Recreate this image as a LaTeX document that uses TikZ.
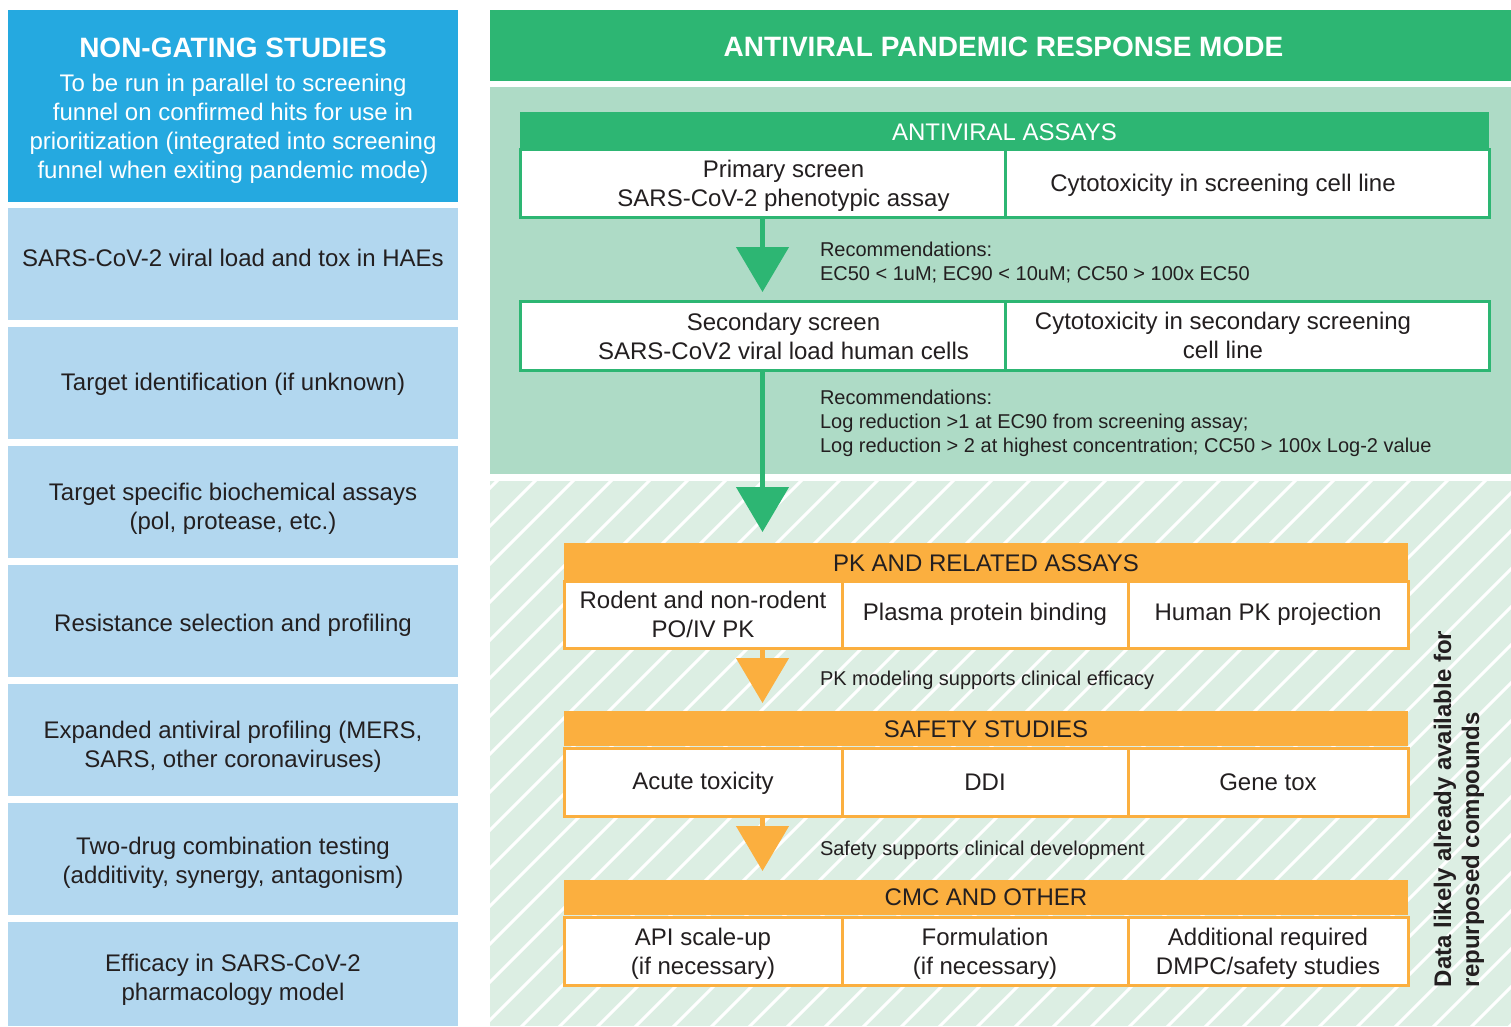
\documentclass[tikz,border=0pt]{standalone}
\usepackage{fontspec}
\setmainfont{Liberation Sans}
\usetikzlibrary{arrows.meta,calc}
\definecolor{blueH}{HTML}{25A9E0}
\definecolor{blueL}{HTML}{B2D7EF}
\definecolor{greenH}{HTML}{2DB673}
\definecolor{greenL}{HTML}{AEDBC6}
\definecolor{hatchbg}{HTML}{DCEEE3}
\definecolor{orangeH}{HTML}{FBAF3F}
\definecolor{txt}{HTML}{231F20}
\tikzset{
  base/.style={inner sep=0pt, outer sep=0pt, align=center, text=txt,
    font=\fontsize{24bp}{29bp}\selectfont},
  leftbox/.style={base, fill=blueL, minimum width=450bp},
  gcell/.style={base, fill=white, draw=greenH, line width=3bp, minimum height=68bp},
  ocell/.style={base, fill=white, draw=orangeH, line width=3bp, minimum height=68bp},
  ghead/.style={base, fill=greenH, text=white, minimum height=36bp},
  ohead/.style={base, fill=orangeH, minimum height=36bp},
  note/.style={inner sep=0pt, outer sep=0pt, align=left, text=txt, anchor=west,
    font=\fontsize{20bp}{24bp}\selectfont},
  garrow/.style={draw=greenH, line width=4.5bp, -{Triangle[width=52bp,length=45bp]}},
  oarrow/.style={draw=orangeH, line width=4.5bp, -{Triangle[width=52bp,length=45bp]}},
}
\begin{document}
\begin{tikzpicture}[x=1bp,y=-1bp]
\useasboundingbox (0,0) rectangle (1511,1026);
% ---------- left column ----------
\node[base, fill=blueH, minimum width=450bp, minimum height=192bp,
  label={[base, text=white, yshift=-4.5bp]center:{\fontsize{28bp}{34bp}\selectfont\bfseries NON-GATING STUDIES}\\[5bp]
   To be run in parallel to screening\\
   funnel on confirmed hits for use in\\
   prioritization (integrated into screening\\
   funnel when exiting pandemic mode)}] (ng) at (233,106) {};
\node[leftbox, minimum height=112bp, label={[base, yshift=6bp]center:SARS-CoV-2 viral load and tox in HAEs}] (l1) at (233,264) {};
\node[leftbox, minimum height=112bp, label={[base, yshift=-1bp]center:Target identification (if unknown)}] (l2) at (233,383) {};
\node[leftbox, minimum height=112bp, label={[base, yshift=-7bp]center:Target specific biochemical assays\\(pol, protease, etc.)}] (l3) at (233,502) {};
\node[leftbox, minimum height=112bp, label={[base, yshift=-4bp]center:Resistance selection and profiling}] (l4) at (233,621) {};
\node[leftbox, minimum height=112bp, label={[base, yshift=-7bp]center:Expanded antiviral profiling (MERS,\\SARS, other coronaviruses)}] (l5) at (233,740) {};
\node[leftbox, minimum height=112bp, label={[base, yshift=-4bp]center:Two-drug combination testing\\(additivity, synergy, antagonism)}] (l6) at (233,859) {};
\node[leftbox, minimum height=104bp, label={[base, yshift=-6bp]center:Efficacy in SARS-CoV-2\\pharmacology model}] (l7) at (233,974) {};
% ---------- right column backgrounds ----------
\node[base, fill=greenH, minimum width=1021bp, minimum height=71bp,
  label={[base, text=white, xshift=3bp, yshift=-1.5bp, font=\fontsize{28bp}{34bp}\selectfont\bfseries]center:ANTIVIRAL PANDEMIC RESPONSE MODE}] (title) at (1000.5,45.5) {};
\fill[greenL] (490,87) rectangle (1511,474);
\fill[hatchbg] (490,481) rectangle (1511,1026);
\begin{scope}
  \clip (490,481) rectangle (1511,1026);
  \foreach \i in {-580,-542,...,1060}
    \draw[white, line width=3bp] (490+\i,1030) -- ++(560,-560);
\end{scope}
% ---------- antiviral assays ----------
\node[ghead, minimum width=969bp, label={[base, text=white, yshift=-2bp]center:ANTIVIRAL ASSAYS}] (avhead) at (1004.5,130) {};
\node[gcell, minimum width=485bp, label={[base, xshift=21bp, yshift=-3bp]center:Primary screen\\SARS-CoV-2 phenotypic assay}] (prim) at (762.5,183) {};
\node[gcell, minimum width=484bp, label={[base, xshift=-24bp, yshift=-2bp]center:Cytotoxicity in screening cell line}] (cyto1) at (1247,183) {};
\node[gcell, minimum width=485bp, minimum height=69bp, label={[base, xshift=21bp, yshift=-1bp]center:Secondary screen\\SARS-CoV2 viral load human cells}] (sec) at (762.5,335.5) {};
\node[gcell, minimum width=484bp, minimum height=69bp, label={[base, xshift=-24bp]center:Cytotoxicity in secondary screening\\cell line}] (cyto2) at (1247,335.5) {};
\node[note] (rec1) at (820,263) {Recommendations:\\EC50 < 1uM; EC90 < 10uM; CC50 > 100x EC50};
\node[note] (rec2) at (820,423) {Recommendations:\\Log reduction >1 at EC90 from screening assay;\\Log reduction > 2 at highest concentration; CC50 > 100x Log-2 value};
% ---------- PK ----------
\node[ohead, minimum width=844bp, minimum height=37bp, label={[base, yshift=-2bp]center:PK AND RELATED ASSAYS}] (pkhead) at (986,561.5) {};
\node[ocell, minimum width=278bp, minimum height=67bp] (pk1) at (703,614.5) {Rodent and non-rodent\\PO/IV PK};
\node[ocell, minimum width=286bp, minimum height=67bp] (pk2) at (985,614.5) {Plasma protein binding};
\node[ocell, minimum width=280bp, minimum height=67bp] (pk3) at (1268,614.5) {Human PK projection};
\node[note] (pknote) at (820,680) {PK modeling supports clinical efficacy};
% ---------- safety ----------
\node[ohead, minimum width=844bp, minimum height=35bp, label={[base, yshift=-1bp]center:SAFETY STUDIES}] (safehead) at (986,728.5) {};
\node[ocell, minimum width=278bp, label={[base, yshift=-1bp]center:Acute toxicity}] (s1) at (703,782) {};
\node[ocell, minimum width=286bp] (s2) at (985,782) {DDI};
\node[ocell, minimum width=280bp] (s3) at (1268,782) {Gene tox};
\node[note] (safenote) at (820,850) {Safety supports clinical development};
% ---------- CMC ----------
\node[ohead, minimum width=844bp, minimum height=35bp] (cmchead) at (986,897.5) {CMC AND OTHER};
\node[ocell, minimum width=278bp, label={[base, yshift=-3bp]center:API scale-up\\(if necessary)}] (c1) at (703,951) {};
\node[ocell, minimum width=286bp, label={[base, yshift=-3bp]center:Formulation\\(if necessary)}] (c2) at (985,951) {};
\node[ocell, minimum width=280bp, label={[base, yshift=-3bp]center:Additional required\\DMPC/safety studies}] (c3) at (1268,951) {};
% ---------- vertical note ----------
\node[inner sep=0pt, outer sep=0pt, align=left, text=txt, rotate=90, anchor=west,
  font=\fontsize{24bp}{28bp}\selectfont\bfseries] (side) at (1459,987)
  {Data likely already available for\\repurposed compounds};
% ---------- arrows ----------
\draw[garrow, shorten >=9bp] (prim.south) -- (sec.north -| prim.south);
\draw[garrow, shorten >=11bp] (sec.south) -- (pkhead.north -| sec.south);
\draw[oarrow, shorten >=8bp] (pk1.south -| prim.south) -- (safehead.north -| prim.south);
\draw[oarrow, shorten >=9bp] (s1.south -| prim.south) -- (cmchead.north -| prim.south);
\end{tikzpicture}
\end{document}
